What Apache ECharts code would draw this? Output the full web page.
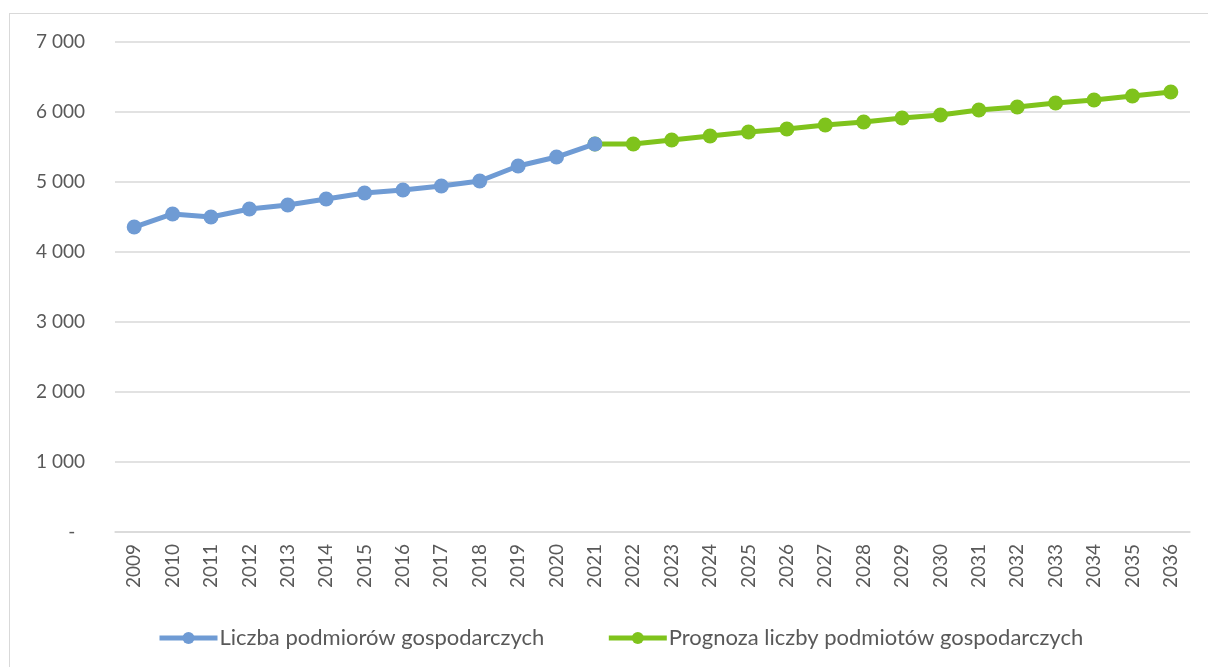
<!DOCTYPE html>
<html>
<head>
<meta charset="utf-8">
<script src="https://cdn.jsdelivr.net/npm/echarts@6/dist/echarts.min.js"></script>
<style>
  html, body { margin: 0; padding: 0; background: #fff; }
  #frame {
    position: absolute; left: 9px; top: 13px;
    width: 1220px; height: 680px;
    border: 1px solid #d9d9d9;
  }
  #chart { position: absolute; left: 0; top: 0; width: 1208px; height: 667px; }
</style>
</head>
<body>
<div id="frame"></div>
<div id="chart"></div>
<script>
const years = ['2009','2010','2011','2012','2013','2014','2015','2016','2017','2018','2019','2020','2021','2022','2023','2024','2025','2026','2027','2028','2029','2030','2031','2032','2033','2034','2035','2036']
// dane rzeczywiste 2009-2021
const actual = [4357, 4543, 4500, 4614, 4671, 4757, 4843, 4886, 4943, 5014, 5229, 5357, 5543]
// prognoza 2021-2036 (start w punkcie 2021)
const forecast = [5543, 5543, 5600, 5657, 5714, 5757, 5814, 5857, 5914, 5957, 6029, 6071, 6129, 6171, 6229, 6286]
const seriesNames = ['Liczba podmiorów gospodarczych', 'Prognoza liczby podmiotów gospodarczych']

const actualData = years.map((y, i) => (i < actual.length ? actual[i] : null))
const forecastData = years.map((y, i) => (i >= 12 ? forecast[i - 12] : null))

const font = 'Lato, "Open Sans", sans-serif'
const chart = echarts.init(document.getElementById('chart'))
chart.setOption({
  animation: false,
  textStyle: { fontFamily: font },
  grid: { left: 115, right: 18, top: 42, bottom: 135, containLabel: false },
  legend: {
    top: 622,
    left: 152,
    itemWidth: 58,
    itemHeight: 15,
    itemGap: 62,
    lineStyle: { width: 5 },
    textStyle: { color: '#595959', fontSize: 22, fontFamily: font, padding: [0, 0, 0, -3] },
    data: seriesNames,
  },
  xAxis: {
    type: 'category',
    data: years,
    boundaryGap: true,
    axisLine: { lineStyle: { color: '#d9d9d9', width: 1.5 } },
    axisTick: { show: false },
    axisLabel: { rotate: 90, color: '#595959', fontSize: 19, margin: 12, interval: 0 },
  },
  yAxis: {
    type: 'value',
    min: 0,
    max: 7000,
    interval: 1000,
    axisLine: { show: false },
    axisTick: { show: false },
    splitLine: { lineStyle: { color: '#d9d9d9', width: 1.5 } },
    axisLabel: {
      color: '#595959',
      fontSize: 19,
      margin: 30,
      formatter: v => (v === 0 ? '-  ' : String(v).replace(/\B(?=(\d{3})+(?!\d))/g, ' ')),
    },
  },
  series: [
    {
      name: seriesNames[0],
      type: 'line',
      data: actualData,
      z: 3,
      symbol: 'circle',
      symbolSize: 15,
      lineStyle: { color: '#6f9bd4', width: 5 },
      itemStyle: { color: '#6f9bd4' },
    },
    {
      name: seriesNames[1],
      type: 'line',
      data: forecastData,
      z: 2,
      symbol: 'circle',
      symbolSize: 15,
      lineStyle: { color: '#7fc31c', width: 5 },
      itemStyle: { color: '#7fc31c' },
    },
  ],
})
</script>
</body>
</html>
